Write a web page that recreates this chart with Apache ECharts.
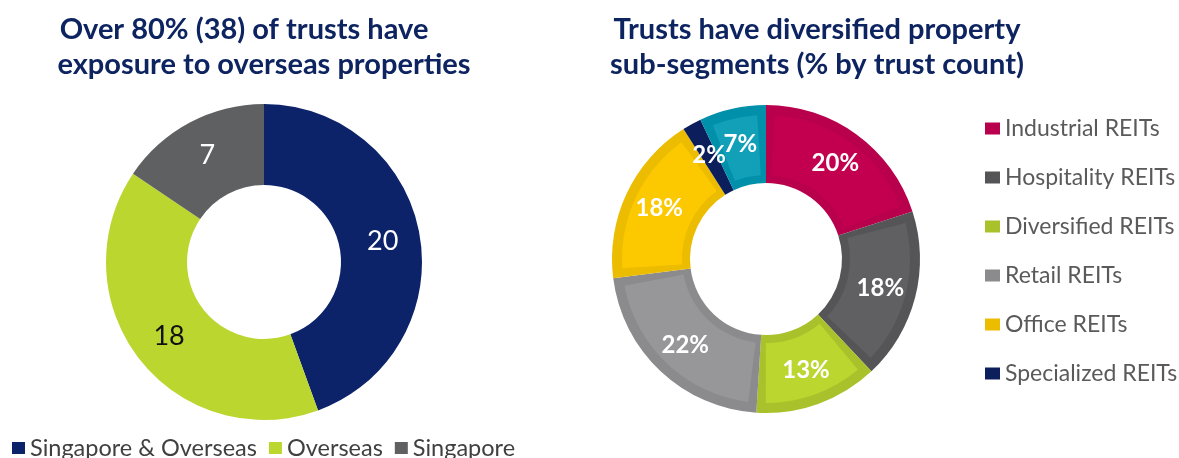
<!DOCTYPE html>
<html>
<head>
<meta charset="utf-8">
<script src="https://cdn.jsdelivr.net/npm/echarts@6/dist/echarts.min.js"></script>
<style>
  html, body { margin: 0; padding: 0; background: #fff; }
  #chart { width: 1179px; height: 458px; }
</style>
</head>
<body>
<div id="chart"></div>
<script>
// left donut: trust count by exposure
const exposureNames = ["Singapore & Overseas", "Overseas", "Singapore"];
const exposureValues = [20, 18, 7];
const exposureColors = ["#0c2369", "#bcd630", "#5f6062"];

// right donut: property sub-segments (% by trust count)
const segmentNames = ["Industrial REITs", "Hospitality REITs", "Diversified REITs", "Retail REITs", "Office REITs", "Specialized REITs", "Other REITs"];
const segmentValues = [20, 18, 13, 22, 18, 2, 7];
const segmentColors = ["#b8004c", "#555557", "#a9c12a", "#8b8b8d", "#ecbc00", "#0c1f5c", "#0090aa"];
const segmentInner = ["#c3004f", "#606062", "#bcd630", "#979799", "#fcc800", "#0c1f5c", "#129fb8"];
const segmentLegend = segmentNames.slice(0, 6);

const font = "Lato, 'Open Sans', sans-serif";
const titleStyle = { color: "#0d2461", fontFamily: font, fontWeight: "bold", fontSize: 29 };

const chart = echarts.init(document.getElementById("chart"));

const rightCenter = [766, 259];
const rightRadius = [76, 154];

const option = {
  backgroundColor: "#fff",
  animation: false,
  title: [
    { text: "Over 80% (38) of trusts have", left: 239, top: 10, textAlign: "center", textStyle: titleStyle },
    { text: "exposure to overseas properties", left: 259, top: 45, textAlign: "center", textStyle: titleStyle },
    { text: "Trusts have diversified property", left: 812, top: 10, textAlign: "center", textStyle: titleStyle },
    { text: "sub-segments (% by trust count)", left: 812, top: 45, textAlign: "center", textStyle: titleStyle }
  ],
  legend: [
    {
      data: exposureNames,
      left: 7,
      top: 431,
      orient: "horizontal",
      itemWidth: 13,
      itemHeight: 12,
      itemGap: 12,
      icon: "rect",
      textStyle: { color: "#404040", fontFamily: font, fontSize: 23.5 }
    },
    {
      data: segmentLegend,
      left: 980,
      top: 112,
      orient: "vertical",
      itemWidth: 15,
      itemHeight: 12,
      itemGap: 26,
      icon: "rect",
      textStyle: { color: "#5a5a5a", fontFamily: font, fontSize: 23 }
    }
  ],
  series: [
    {
      type: "pie",
      center: [264, 262],
      radius: [77, 158],
      startAngle: 90,
      clockwise: true,
      label: {
        show: true,
        position: "inside",
        fontFamily: font,
        fontSize: 27,
        formatter: "{c}"
      },
      labelLine: { show: false },
      data: exposureNames.map((n, i) => ({
        name: n,
        value: exposureValues[i],
        itemStyle: { color: exposureColors[i] },
        label: { color: i === 1 ? "#111" : "#fff" }
      }))
    },
    // darker outer frame of each segment
    {
      type: "pie",
      z: 1,
      center: rightCenter,
      radius: rightRadius,
      startAngle: 90,
      clockwise: true,
      label: { show: false },
      labelLine: { show: false },
      data: segmentNames.map((n, i) => ({
        name: n,
        value: segmentValues[i],
        itemStyle: { color: segmentColors[i] }
      }))
    },
    // lighter inner panel
    {
      type: "pie",
      z: 2,
      silent: true,
      center: rightCenter,
      radius: [rightRadius[0] + 8, rightRadius[1] - 10],
      startAngle: 90,
      clockwise: true,
      padAngle: 7,
      label: { show: false },
      labelLine: { show: false },
      data: segmentNames.map((n, i) => ({
        name: n,
        value: segmentValues[i],
        itemStyle: { color: segmentInner[i] }
      }))
    },
    // labels on top
    {
      type: "pie",
      z: 3,
      silent: true,
      avoidLabelOverlap: false,
      center: rightCenter,
      radius: rightRadius,
      startAngle: 90,
      clockwise: true,
      itemStyle: { color: "rgba(0,0,0,0)" },
      label: {
        show: true,
        position: "inside",
        color: "#fff",
        fontFamily: font,
        fontWeight: "bold",
        fontSize: 24,
        formatter: "{c}%"
      },
      labelLayout: { hideOverlap: false },
      labelLine: { show: false },
      data: segmentNames.map((n, i) => ({
        name: n,
        value: segmentValues[i]
      }))
    }
  ]
};

chart.setOption(option);
</script>
</body>
</html>
